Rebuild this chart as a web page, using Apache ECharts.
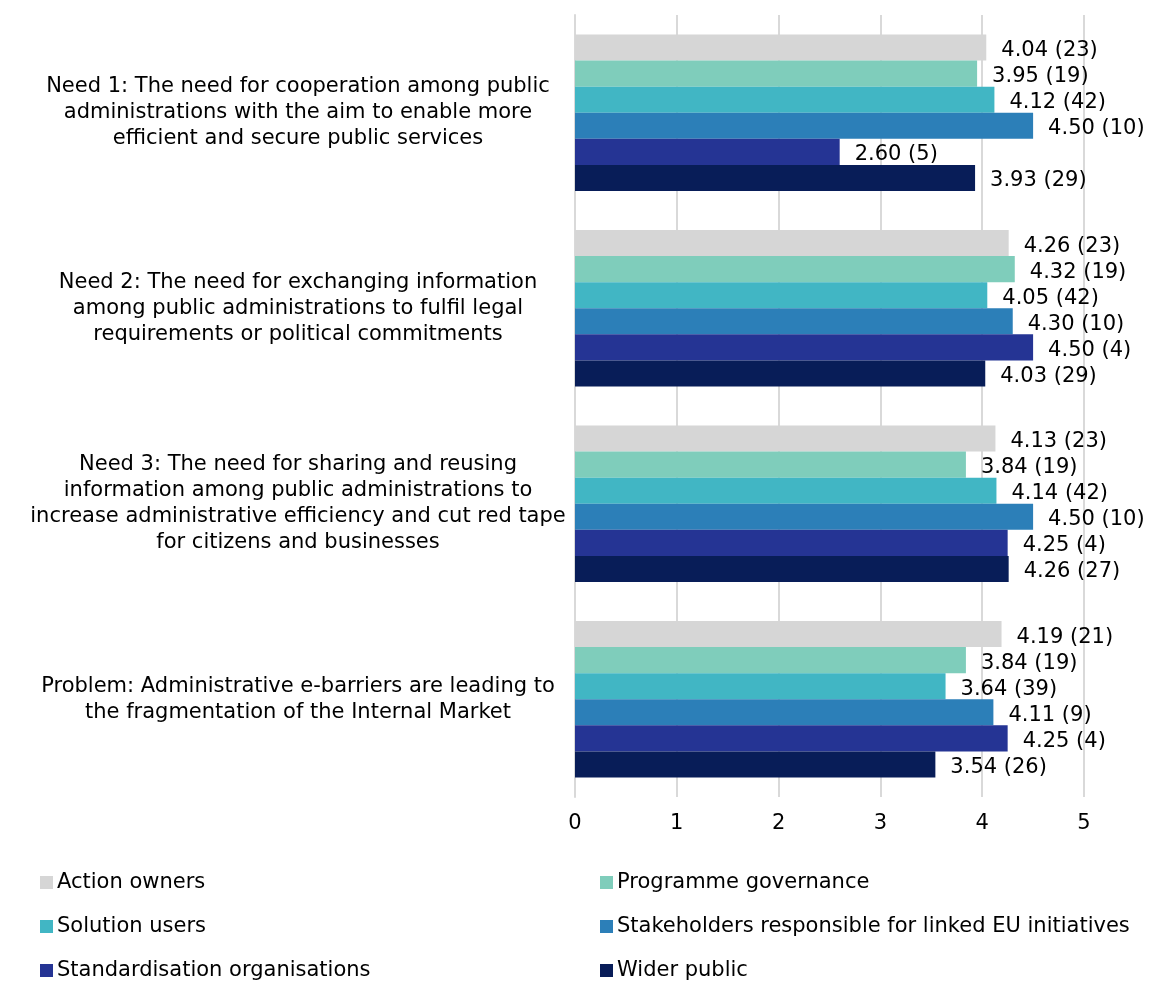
<!DOCTYPE html>
<html>
<head>
<meta charset="utf-8">
<script src="https://cdn.jsdelivr.net/npm/echarts@6/dist/echarts.min.js"></script>
<style>
html,body{margin:0;padding:0;background:#fff;}
#main{width:1154px;height:981px;}
</style>
</head>
<body>
<div id="main"></div>
<script>
// categories (top to bottom)
var categories = [
    'Need 1: The need for cooperation among public\nadministrations with the aim to enable more\nefficient and secure public services',
    'Need 2: The need for exchanging information\namong public administrations to fulfil legal\nrequirements or political commitments',
    'Need 3: The need for sharing and reusing\ninformation among public administrations to\nincrease administrative efficiency and cut red tape\nfor citizens and businesses',
    'Problem: Administrative e-barriers are leading to\nthe fragmentation of the Internal Market'
];
var seriesNames = ['Action owners', 'Programme governance', 'Solution users',
    'Stakeholders responsible for linked EU initiatives', 'Standardisation organisations', 'Wider public'];
var colors = ['#d6d6d6', '#7fcdbb', '#41b6c4', '#2c7fb8', '#253494', '#081d58'];

// average scores
var actionOwners = [4.04, 4.26, 4.13, 4.19];
var programmeGov = [3.95, 4.32, 3.84, 3.84];
var solutionUsers = [4.12, 4.05, 4.14, 3.64];
var stakeholders = [4.50, 4.30, 4.50, 4.11];
var standardisation = [2.60, 4.50, 4.25, 4.25];
var widerPublic = [3.93, 4.03, 4.26, 3.54];

// number of respondents
var nActionOwners = [23, 23, 23, 21];
var nProgrammeGov = [19, 19, 19, 19];
var nSolutionUsers = [42, 42, 42, 39];
var nStakeholders = [10, 10, 10, 9];
var nStandardisation = [5, 4, 4, 4];
var nWiderPublic = [29, 29, 27, 26];

var xTicks = [0, 1, 2, 3, 4, 5];

var values = [actionOwners, programmeGov, solutionUsers, stakeholders, standardisation, widerPublic];
var counts = [nActionOwners, nProgrammeGov, nSolutionUsers, nStakeholders, nStandardisation, nWiderPublic];
var font = 'DejaVu Sans, Verdana, sans-serif';

var myChart = echarts.init(document.getElementById('main'));

var series = [];
for (var i = 0; i < values.length; i++) {
    (function (k) {
        series.push({
            name: seriesNames[k],
            type: 'bar',
            data: values[k],
            barGap: '0%',
            barCategoryGap: '20%',
            itemStyle: {color: colors[k]},
            label: {
                show: true,
                position: 'right',
                distance: 15,
                offset: [0, 3],
                color: '#000',
                fontFamily: font,
                fontSize: 21,
                formatter: function (p) {
                    return p.value.toFixed(2) + ' (' + counts[k][p.dataIndex] + ')';
                }
            }
        });
    })(i);
}

// legend: two columns, three rows, one component per entry
var legendPos = [[40, 872], [600, 872], [40, 916], [600, 916], [40, 960], [600, 960]];
var legends = [];
for (var j = 0; j < seriesNames.length; j++) {
    legends.push({
        left: legendPos[j][0], top: legendPos[j][1],
        itemWidth: 13, itemHeight: 13, itemGap: 0, icon: 'rect',
        padding: 0,
        textStyle: {color: '#000', fontFamily: font, fontSize: 21, padding: [0, 0, 0, -1]},
        data: [seriesNames[j]]
    });
}

myChart.setOption({
    animation: false,
    grid: {left: 575, right: 70, top: 15, bottom: 184, containLabel: false},
    xAxis: {
        type: 'value',
        min: 0,
        max: 5,
        interval: 1,
        axisLine: {show: false},
        axisTick: {show: false},
        splitLine: {lineStyle: {color: '#d9d9d9', width: 2}},
        axisLabel: {
            color: '#000', fontFamily: font, fontSize: 21, margin: 16,
            formatter: function (v) { return xTicks.indexOf(v) >= 0 ? String(v) : ''; }
        }
    },
    yAxis: {
        type: 'category',
        inverse: true,
        data: categories,
        axisLine: {show: true, lineStyle: {color: '#d9d9d9', width: 2}},
        axisTick: {show: false},
        axisLabel: {
            color: '#000', fontFamily: font, fontSize: 21, lineHeight: 26,
            align: 'center', margin: 277
        }
    },
    legend: legends,
    series: series
});
</script>
</body>
</html>
